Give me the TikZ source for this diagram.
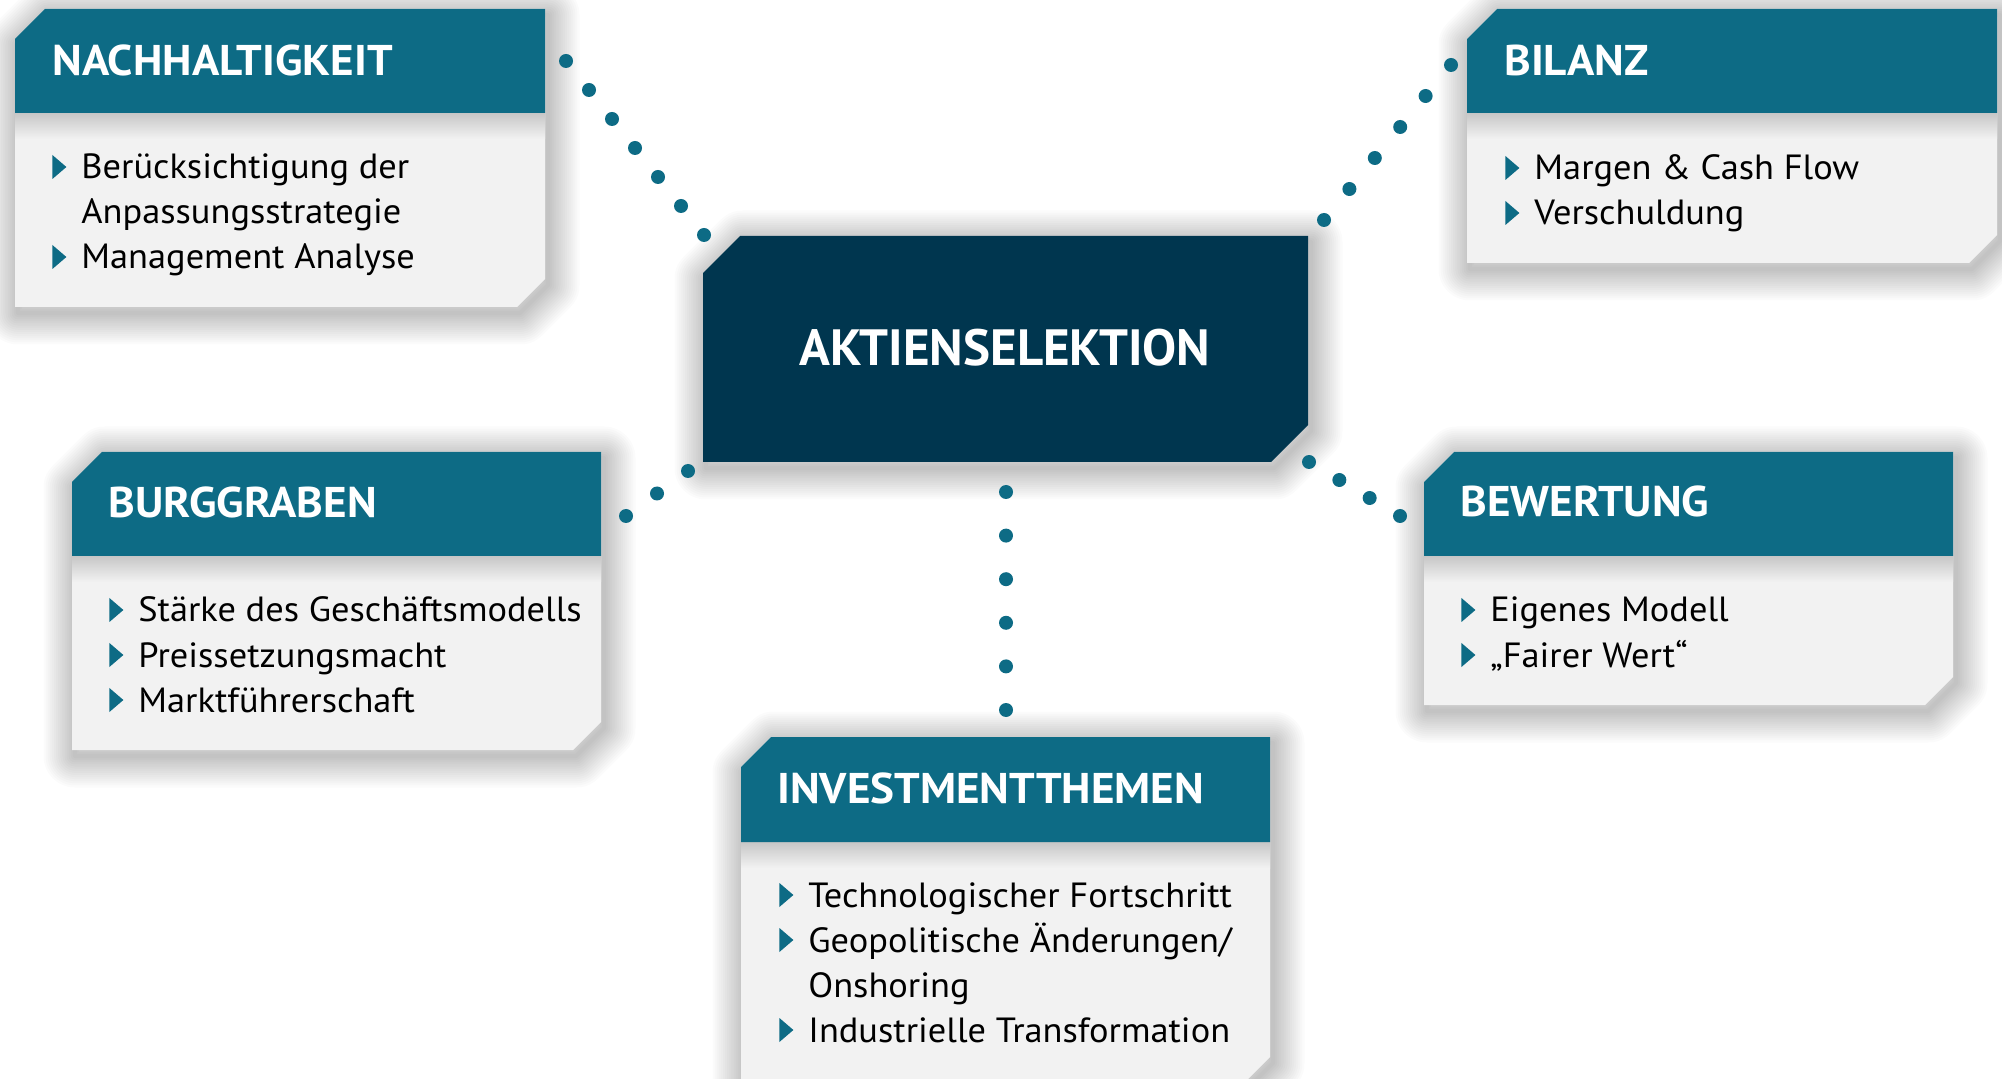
\documentclass[tikz,border=0pt]{standalone}
\usepackage{fontspec}
\setmainfont{PT Sans}
\newfontfamily\ttlfont[FakeStretch=1.05]{PT Sans}
\newfontfamily\lstfont[FakeStretch=1.04]{PT Sans}
\usetikzlibrary{calc}
\definecolor{hdr}{HTML}{0D6B85}
\definecolor{ctr}{HTML}{00364F}
\definecolor{bodyc}{HTML}{F2F2F2}
\newcommand\bul{\tikz[baseline=0pt,x=1pt,y=1pt]\fill[hdr] (0,0)--(7,6)--(0,12)--cycle;}
\tikzset{
  shdstroke/.style={draw=black,draw opacity=0.016,line join=round},
  ttl/.style={text=white,inner sep=0pt,anchor=base west,font=\ttlfont\fontsize{21.5}{24}\selectfont\bfseries},
  lst/.style={text=black,inner sep=0pt,anchor=base west,font=\lstfont\fontsize{17.5}{22.5}\selectfont},
  dotc/.style={fill=hdr},
  seam/.style={top color=black!18!bodyc,bottom color=bodyc}
}
% soft drop shadow of a closed path
\newcommand\softshadow[1]{%
  \begin{scope}[shift={(3,6)}]
    \foreach \k in {1,...,15} \path[shdstroke,line width=\k*2.1pt] #1;
  \end{scope}}
% #1 x1, #2 x2, #3 ytop, #4 yheader, #5 ybottom
\newcommand\card[5]{%
  \softshadow{(#1,{#3+30}) -- ({#1+30},#3) -- (#2,#3) -- (#2,{#5-28}) -- ({#2-28},#5) -- (#1,#5) -- cycle}
  \fill[bodyc] (#1,{#3+30}) -- ({#1+30},#3) -- (#2,#3) -- (#2,{#5-28}) -- ({#2-28},#5) -- (#1,#5) -- cycle;
  \shade[seam] (#1,#4) rectangle (#2,{#4+26});
  \fill[hdr] (#1,{#3+30}) -- ({#1+30},#3) -- (#2,#3) -- (#2,#4) -- (#1,#4) -- cycle;
}
\newcommand\items[1]{\begin{tabular}[t]{@{}l@{\hspace{7.5pt}}l@{}}#1\end{tabular}}
\begin{document}
\begin{tikzpicture}[x=0.5pt,y=-0.5pt]
\useasboundingbox (0,0) rectangle (2002,1079);
\clip (0,0) rectangle (2002,1079);
\fill[white] (0,0) rectangle (2002,1079);

% centre box
\softshadow{(703,273) -- (740,236) -- (1308,236) -- (1308,425) -- (1271,462) -- (703,462) -- cycle}
\fill[ctr] (703,273) -- (740,236) -- (1308,236) -- (1308,425) -- (1271,462) -- (703,462) -- cycle;
\node[text=white,inner sep=0pt,anchor=base,font=\fontsize{25.5}{30}\selectfont\bfseries] (akt) at (1005,366) {AKTIENSELEKTION};

% cards
\card{15}{545}{9}{113}{307}
\card{1467}{1997}{9}{113}{263}
\card{72}{601}{452}{556}{750}
\card{1424}{1953}{452}{556}{705}
\card{741}{1270}{737}{842}{1085}

\node[ttl] (tN) at (52,76) {NACHHALTIGKEIT};
\node[ttl] (tB) at (1504,76) {BILANZ};
\node[ttl] (tG) at (108,518) {BURGGRABEN};
\node[ttl] (tW) at (1460,517) {BEWERTUNG};
\node[ttl] (tI) at (777,803) {INVESTMENTTHEMEN};

\node[lst] (lN) at (52,179) {\items{\bul & Berücksichtigung der\\ & Anpassungsstrategie\\ \bul & Management Analyse}};
\node[lst] (lB) at (1505,180) {\items{\bul & Margen \& Cash Flow\\ \bul & Verschuldung}};
\node[lst] (lG) at (109,622) {\items{\bul & Stärke des Geschäftsmodells\\ \bul & Preissetzungsmacht\\ \bul & Marktführerschaft}};
\node[lst] (lW) at (1461,622) {\items{\bul & Eigenes Modell\\ \bul & „Fairer Wert“}};
\node[lst] (lI) at (779,907) {\items{\bul & Technologischer Fortschritt\\ \bul & Geopolitische Änderungen/\\ & Onshoring\\ \bul & Industrielle Transformation}};

% connectors (dots)
\coordinate (nA) at (566,61);   \coordinate (nB) at (704,235);
\coordinate (bA) at (1451,65);  \coordinate (bB) at (1324,220);
\coordinate (gA) at (626,516);  \coordinate (gB) at (688,471);
\coordinate (wA) at (1309,462); \coordinate (wB) at (1400,516);
\coordinate (iA) at (1006,492); \coordinate (iB) at (1006,710);
\foreach \i in {0,...,6} \fill[dotc] ($(nA)!\i/6!(nB)$) circle (7);
\foreach \i in {0,...,5} \fill[dotc] ($(bA)!\i/5!(bB)$) circle (7);
\foreach \i in {0,...,2} \fill[dotc] ($(gA)!\i/2!(gB)$) circle (7);
\foreach \i in {0,...,3} \fill[dotc] ($(wA)!\i/3!(wB)$) circle (7);
\foreach \i in {0,...,5} \fill[dotc] ($(iA)!\i/5!(iB)$) circle (7);
\end{tikzpicture}
\end{document}
